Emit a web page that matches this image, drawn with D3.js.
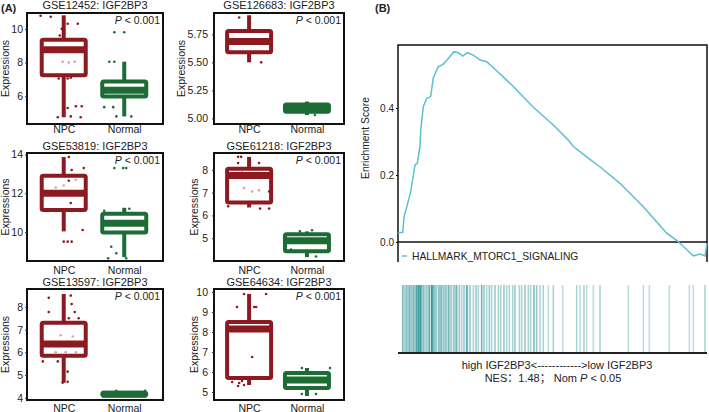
<!DOCTYPE html>
<html><head><meta charset="utf-8">
<script src="https://cdn.jsdelivr.net/npm/d3@7"></script>
<style>
body{margin:0;background:#fff}
svg text{font-family:"Liberation Sans",Arial,"Noto Sans CJK SC",sans-serif;fill:#222}
</style>
</head><body>
<svg id="c" width="709" height="412"></svg>
<script>
// ---------------- DATA ----------------
const categories = ["NPC", "Normal"];
const datasets = ["GSE12452", "GSE126683", "GSE53819", "GSE61218", "GSE13597", "GSE64634"];
const gene = "IGF2BP3";
const pLabel = "< 0.001";
const yDomains = [[4.35,10.94],[4.95,5.94],[8.5,14.08],[4.0,8.74],[3.9,8.79],[4.6,10.15]];
const yTicks = [[6,8,10],[5.00,5.25,5.50,5.75],[10,12,14],[5,6,7,8],[4,5,6,7,8],[5,6,7,8,9,10]];
// box statistics [lower whisker, Q1, median, Q3, upper whisker]
const npcStats = [
  [4.75, 7.24, 8.76, 9.35, 10.8],
  [5.50, 5.59, 5.685, 5.78, 5.92],
  [10.03, 11.14, 12.0, 12.91, 13.87],
  [6.35, 6.57, 7.75, 8.05, 8.57],
  [4.66, 5.85, 6.37, 7.3, 8.57],
  [5.35, 5.7, 8.15, 8.5, 9.9]
];
const normalStats = [
  [4.8, 5.98, 6.35, 6.88, 8.05],
  [5.03, 5.06, 5.095, 5.125, 5.15],
  [8.7, 9.97, 10.45, 10.94, 11.25],
  [4.17, 4.43, 4.89, 5.17, 5.3],
  [4.05, 4.1, 4.15, 4.22, 4.28],
  [4.8, 5.2, 5.6, 5.95, 6.2]
];
// jittered samples [value, jitter (fraction of half box width)]
const npcPoints = [
  [[10.78,-1.05],[10.72,-0.59],[10.3,0.64],[10.3,0.18],[10.0,-0.09],[9.6,-0.18],[7.05,-0.23],[7.05,0.18],[7.1,0.32],[5.4,0.82],[5.4,0.55],[5.3,0.18],[4.8,0.32],[4.75,0.77],[4.75,-0.27]],
  [[5.9,-0.45],[5.50,0.55]],
  [[13.87,0.23],[13.3,0.91],[13.2,0.36],[12.65,0.23],[11.5,0.32],[10.1,0.86],[9.5,0],[9.5,0.18],[9.5,0.36]],
  [[8.57,-0.5],[8.57,-0.36],[8.3,-0.5],[8.3,0.45],[7.87,-0.32],[7.05,0.91],[6.4,-0.95],[6.3,0.5],[6.3,0.91]],
  [[8.4,-0.68],[7.78,-0.68],[8.13,0.36],[7.78,0.5],[7.5,0.23],[7.5,0.68],[5.6,-0.95],[5.6,-0.27],[5.15,0.18],[4.66,-0.05],[4.7,0.18],[8.5,0.32]],
  [[9.9,-0.23],[9.9,0.77],[9.25,-0.55],[9.25,0.23],[9.25,0.32],[6.75,0.14],[5.5,-0.77],[5.45,-0.45],[5.55,-0.32],[5.3,-0.5],[5.35,-0.23],[5.75,-1.0]]
];
const npcInnerPoints = [
  [[8.05,-0.05],[8.0,0.23],[8.05,0.5]],
  [],
  [[12.4,0],[12.7,0.55],[12.3,-0.36]],
  [[7.05,0.14],[7.1,0.45],[7.2,-0.23]],
  [[6.75,-0.14],[6.7,0.41],[6.0,0.09],[6.0,0.55],[6.0,-0.36]],
  []
];
const normalPoints = [
  [[9.8,-0.45],[9.8,0],[8.05,-0.68],[8.05,-0.45],[5.35,-0.91],[5.35,-0.5],[4.8,-0.36],[4.8,0.32]],
  [[5.03,0.36]],
  [[13.3,-0.45],[13.3,-0.05],[13.3,0.09],[9.24,-0.59],[8.9,-0.36],[8.64,-0.73],[8.64,0.09],[11.1,-0.91],[11.2,0.23]],
  [[5.35,0.23],[4.2,0.41],[5.3,-0.32],[4.5,-0.73]],
  [[4.3,-0.36],[4.3,0.95]],
  [[6.2,-0.23],[6.2,1.05],[4.9,-0.23],[4.9,0.41]]
];
// GSEA running enrichment score (x = % of ranked list)
const esRank = [0,1.52,1.94,2.82,4.11,5.5,6.25,7.12,7.35,8.19,9.29,10.58,11.42,13.04,14.66,16.28,18.12,19.51,20.94,22.43,24.37,26.54,28.7,31.94,37.31,43.79,50.26,55.11,56.73,61.59,65.92,71.84,79.39,86.96,90.71,95.57,97.73,99.35,100];
const esScore = [0.028,0.028,0.074,0.104,0.15,0.23,0.235,0.285,0.334,0.404,0.429,0.434,0.49,0.523,0.531,0.548,0.568,0.565,0.555,0.565,0.558,0.543,0.538,0.511,0.464,0.402,0.349,0.304,0.285,0.25,0.22,0.175,0.105,0.026,0.001,-0.042,-0.036,-0.042,-0.004];
const esTicks = [0.0, 0.2, 0.4];
const geneSetName = "HALLMARK_MTORC1_SIGNALING";
// gene set hits (% of ranked list) and their shade intensity
const hitRank = [1.51,1.94,2.3,2.80,3.2,3.67,4.05,4.42,4.96,5.50,6.04,6.58,6.90,7.34,7.66,8.20,8.7,9.28,9.7,10.14,10.89,11.22,11.65,12.30,13.05,13.59,14.13,14.67,15.1,15.53,16.29,16.83,17.37,18.12,18.5,18.99,19.85,20.60,21.36,22.22,22.44,23.30,24.38,25.24,26.0,27.08,27.83,28.69,29.56,30.31,31.39,32.47,33.23,34.30,35.17,36.03,37.11,37.86,39.27,40.02,41.10,42.18,42.93,44.01,44.88,45.95,47.03,48.65,50.27,53.29,57.82,58.90,60.19,61.06,63.21,65.37,74.54,79.40,81.34,87.81,94.28,95.58,99.35];
const hitShade = [0.5,0.4,0.3,0.5,0.35,0.6,0.4,0.4,0.6,0.5,0.8,0.95,0.7,0.9,0.6,0.5,0.35,0.4,0.3,0.7,0.95,0.8,0.6,0.5,0.4,0.6,0.5,0.4,0.3,0.5,0.6,0.4,0.3,0.5,0.3,0.6,0.4,0.3,0.4,0.75,0.6,0.4,0.3,0.4,0.3,0.65,0.4,0.3,0.4,0.3,0.4,0.3,0.3,0.4,0.3,0.3,0.3,0.4,0.3,0.3,0.4,0.3,0.3,0.55,0.4,0.3,0.3,0.2,0.3,0.2,0.3,0.2,0.3,0.2,0.2,0.3,0.2,0.2,0.2,0.2,0.2,0.2,0.3];

// ---------------- DRAW ----------------
const svg = d3.select("#c");
const RED = "#8c1a20", GREEN = "#1d6b35";
const colX = [[27,163],[214,344]];
const rowY = [[13,124],[153,261],[289,400]];
const titleBase = [8.5,150,285.5];
const labelBase = [133,274,411.5];
const yTitleX = [9,185,9,198,9,198];
const FS = 10.5;

svg.append("text").attr("x",1).attr("y",12).attr("font-size",11).attr("font-weight","bold").text("(A)");
svg.append("text").attr("x",375).attr("y",12).attr("font-size",11).attr("font-weight","bold").text("(B)");

datasets.forEach((ds,i)=>{
  const c = i%2, r = Math.floor(i/2);
  const [x0,x1] = colX[c], [y0,y1] = rowY[r];
  const w = x1-x0;
  const g = svg.append("g");
  const x = d3.scalePoint().domain(categories).range([x0+0.27*w, x0+0.715*w]);
  const y = d3.scaleLinear().domain(yDomains[i]).range([y1,y0]);
  const bw = 44, half = 22;
  const stats = [npcStats[i], normalStats[i]];
  const cols = [RED, GREEN];
  categories.forEach((cat,k)=>{
    const s = stats[k], cx = x(cat), col = cols[k];
    g.append("line").attr("x1",cx).attr("x2",cx).attr("y1",y(s[0])).attr("y2",y(s[4]))
      .attr("stroke",col).attr("stroke-width",4);
    g.append("rect").attr("x",cx-bw/2).attr("width",bw).attr("y",y(s[3])).attr("height",y(s[1])-y(s[3]))
      .attr("fill","#fff").attr("stroke",col).attr("stroke-width",4).attr("rx",1.5);
    g.append("line").attr("x1",cx-bw/2).attr("x2",cx+bw/2).attr("y1",y(s[2])).attr("y2",y(s[2]))
      .attr("stroke",col).attr("stroke-width",7);
  });
  g.selectAll("circle.n").data(npcPoints[i]).join("circle")
    .attr("cx",d=>x("NPC")+d[1]*half).attr("cy",d=>y(d[0])).attr("r",1.3).attr("fill",RED);
  g.selectAll("circle.ni").data(npcInnerPoints[i]).join("circle")
    .attr("cx",d=>x("NPC")+d[1]*half).attr("cy",d=>y(d[0])).attr("r",1.3).attr("fill","#d9a3a3");
  g.selectAll("circle.m").data(normalPoints[i]).join("circle")
    .attr("cx",d=>x("Normal")+d[1]*half).attr("cy",d=>y(d[0])).attr("r",1.3).attr("fill",GREEN);
  // frame
  g.append("rect").attr("x",x0).attr("y",y0).attr("width",w).attr("height",y1-y0)
    .attr("fill","none").attr("stroke","#111").attr("stroke-width",2);
  // y axis
  const ya = g.append("g").attr("transform",`translate(${x0},0)`)
    .call(d3.axisLeft(y).tickValues(yTicks[i]).tickSize(2).tickPadding(c===0?2:4)
      .tickFormat(i===1?d3.format(".2f"):d3.format("d")));
  ya.select(".domain").remove();
  ya.selectAll("text").attr("font-size",FS).attr("fill","#222").attr("font-family",null);
  ya.selectAll("line").attr("stroke","#333");
  // x axis
  const xa = g.append("g").attr("transform",`translate(0,${y1})`)
    .call(d3.axisBottom(x).tickSize(0).tickPadding(labelBase[r]-y1-FS*0.71));
  xa.select(".domain").remove();
  xa.selectAll("text").attr("font-size",FS).attr("fill","#222").attr("font-family",null);
  // titles
  g.append("text").attr("x",(x0+x1)/2).attr("y",titleBase[r]).attr("text-anchor","middle")
    .attr("font-size",11).text(`${ds}: ${gene}`);
  const pt = g.append("text").attr("x",x1-3).attr("y",y0+11).attr("text-anchor","end").attr("font-size",FS);
  pt.append("tspan").attr("font-style","italic").text("P");
  pt.append("tspan").text(" " + pLabel);
  g.append("text").attr("transform",`translate(${yTitleX[i]},${(y0+y1)/2}) rotate(-90)`)
    .attr("text-anchor","middle").attr("font-size",FS).text("Expressions");
});

// ---------- Panel B ----------
const gx0 = 398, gx1 = 707, gy0 = 45, gy1 = 262;
const ex = d3.scaleLinear().domain([0,100]).range([gx0,gx1]);
const ey = d3.scaleLinear().domain([-0.06,0.588]).range([gy1,gy0]);
const gb = svg.append("g");
gb.append("path").attr("d",`M${gx0},${gy1}V${gy0}H${gx1}V${gy1}`).attr("fill","none")
  .attr("stroke","#111").attr("stroke-width",1.5);
gb.append("line").attr("x1",gx0).attr("x2",gx1).attr("y1",ey(0)).attr("y2",ey(0))
  .attr("stroke","#111").attr("stroke-width",1.5);
const line = d3.line().x(d=>ex(d[0])).y(d=>ey(d[1]));
gb.append("path").datum(esRank.map((r,k)=>[r,esScore[k]])).attr("d",line)
  .attr("fill","none").attr("stroke","#5bc0d0").attr("stroke-width",1.5);
const eya = gb.append("g").attr("transform",`translate(${gx0},0)`)
  .call(d3.axisLeft(ey).tickValues(esTicks).tickSize(2).tickPadding(2).tickFormat(d3.format(".1f")));
eya.select(".domain").remove();
eya.selectAll("text").attr("font-size",10).attr("fill","#222").attr("font-family",null);
gb.append("text").attr("transform","translate(369,138) rotate(-90)").attr("text-anchor","middle")
  .attr("font-size",10.3).text("Enrichment Score");
gb.append("line").attr("x1",402).attr("x2",407).attr("y1",256).attr("y2",256).attr("stroke","#5bc0d0").attr("stroke-width",1.5);
gb.append("text").attr("x",412).attr("y",259.5).attr("font-size",10.3).text(geneSetName);

// barcode
const shade = d3.interpolateRgb("#e2f1f1","#2b8f93");
gb.selectAll("line.hit").data(hitRank).join("line")
  .attr("x1",d=>ex(d)).attr("x2",d=>ex(d)).attr("y1",285).attr("y2",352)
  .attr("stroke",(d,k)=>shade(hitShade[k])).attr("stroke-width",1.6);
gb.append("line").attr("x1",gx0).attr("x2",gx1).attr("y1",353).attr("y2",353).attr("stroke","#222").attr("stroke-width",2);
gb.append("text").attr("x",557).attr("y",369).attr("text-anchor","middle").attr("font-size",11)
  .text("high IGF2BP3<------------>low IGF2BP3");
const nes = gb.append("text").attr("x",553).attr("y",382).attr("text-anchor","middle").attr("font-size",11);
nes.append("tspan").text("NES：1.48；  Nom ");
nes.append("tspan").attr("font-style","italic").text("P");
nes.append("tspan").text(" < 0.05");
</script>
</body></html>
